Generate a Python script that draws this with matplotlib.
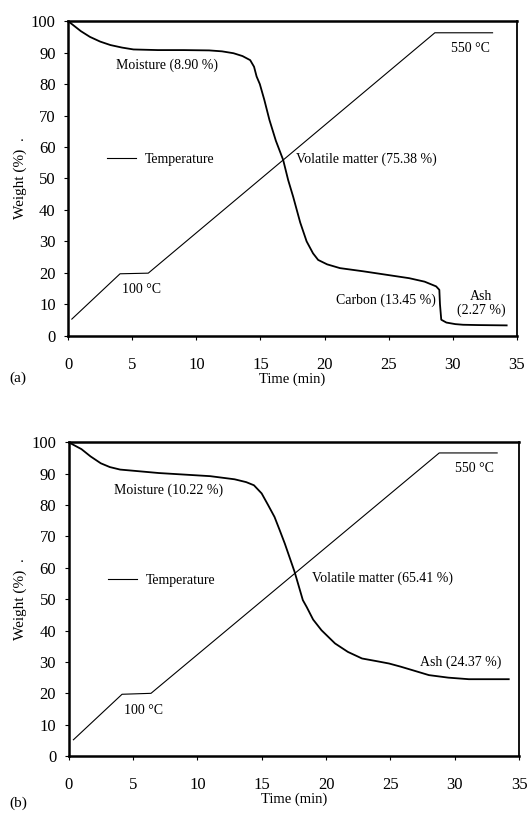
import matplotlib
matplotlib.use("Agg")
import matplotlib.pyplot as plt

plt.rcParams["font.family"] = ["Liberation Serif", "DejaVu Serif"]

# panel (a) weight loss curve
TIME_A = [0, 0.5, 1, 1.7, 2.5, 3.3, 4.2, 5.1, 7, 9, 11, 12, 12.9, 13.6, 14.2,
          14.5, 14.7, 14.95, 15.3, 15.7, 16.2, 16.77, 17.16, 17.55, 18.1, 18.6,
          19.1, 19.5, 20.2, 21.2, 23, 24.8, 26.6, 27.8, 28.7, 28.95, 29.0, 29.1,
          29.5, 30.2, 30.8, 32, 34.2]
WEIGHT_A = [100, 98.4, 96.8, 95, 93.5, 92.4, 91.6, 91, 90.8, 90.8, 90.7, 90.4,
            89.8, 88.9, 87.6, 85.5, 82.4, 80, 75, 68.6, 62, 55.9, 49.5, 44.2,
            36, 30, 26.2, 24.1, 22.7, 21.5, 20.5, 19.4, 18.3, 17.2, 15.7, 14.6,
            10, 5.1, 4.2, 3.7, 3.5, 3.4, 3.3]
TEMP_TIME_A = [0.29, 4.05, 6.25, 28.6, 33.1]
TEMP_A = [5.3, 19.7, 19.9, 96.3, 96.3]

# panel (b) weight loss curve
TIME_B = [0, 1, 1.7, 2.5, 3.2, 4, 5.1, 7, 9, 11, 12.9, 13.8, 14.4, 15, 15.5,
          16, 16.4, 16.8, 17.56, 18.2, 18.5, 19, 19.65, 20.7, 21.7, 22.8, 24,
          24.9, 25.8, 26.7, 28, 29.5, 31.1, 34.2]
WEIGHT_B = [100, 97.8, 95.5, 93.3, 92.1, 91.3, 90.9, 90.2, 89.7, 89.2, 88.2,
            87.3, 86.3, 83.7, 80, 76.2, 72, 67.7, 58.7, 49.7, 47.5, 43.5, 40.1,
            35.9, 33.2, 31.1, 30.2, 29.5, 28.5, 27.4, 25.8, 25.0, 24.5, 24.5]
TEMP_TIME_B = [0.37, 4.15, 6.4, 28.8, 33.3]
TEMP_B = [5.2, 19.7, 20, 96.6, 96.6]

XTICKS = [0, 5, 10, 15, 20, 25, 30, 35]
YTICKS = [0, 10, 20, 30, 40, 50, 60, 70, 80, 90, 100]

ANNOT_A = [
    (7.7, 86, "Moisture (8.90 %)", "center"),
    (17.8, 56, "Volatile matter (75.38 %)", "left"),
    (31.4, 91.3, "550 °C", "center"),
    (5.7, 14.6, "100 °C", "center"),
    (24.8, 11.4, "Carbon (13.45 %)", "center"),
    (32.2, 10.2, "Ash\n(2.27 %)", "center"),
]
ANNOT_B = [
    (7.8, 84.7, "Moisture (10.22 %)", "center"),
    (18.9, 56.6, "Volatile matter (65.41 %)", "left"),
    (31.5, 91.6, "550 °C", "center"),
    (5.8, 14.6, "100 °C", "center"),
    (30.5, 30.0, "Ash (24.37 %)", "center"),
]


def style_axes(ax):
    ax.set_xlim(0, 35)
    ax.set_ylim(0, 100)
    ax.set_xticks(XTICKS)
    ax.set_yticks(YTICKS)
    for side in ["left", "bottom", "top"]:
        ax.spines[side].set_linewidth(1.8)
    ax.spines["right"].set_linewidth(1.3)
    ax.tick_params(axis="x", direction="out", length=3, width=0.8, pad=12,
                   labelsize=12)
    ax.tick_params(axis="y", direction="out", length=3, width=0.8, pad=6,
                   labelsize=12)
    ax.set_xlabel("Time (min)", fontsize=10.5, labelpad=0)
    ax.set_ylabel("Weight (%)  .", fontsize=11, labelpad=3)


def draw_panel(ax, t, w, tt, temp, annots):
    ax.plot(t, w, color="black", linewidth=1.3)
    ax.plot(tt, temp, color="black", linewidth=0.8, label="Temperature")
    for x, y, text, ha in annots:
        ax.text(x, y, text, ha=ha, va="center", fontsize=10,
                multialignment="center", linespacing=1.1)
    ax.legend(loc="center left", bbox_to_anchor=(0.087, 0.56), frameon=False,
              borderpad=0, borderaxespad=0, handlelength=2.1,
              handletextpad=0.6, fontsize=10)
    style_axes(ax)


fig = plt.figure(figsize=(5.28, 8.13), dpi=100)
ax1 = fig.add_axes([0.129, 0.587, 0.850, 0.387])
ax2 = fig.add_axes([0.130, 0.070, 0.853, 0.386])

draw_panel(ax1, TIME_A, WEIGHT_A, TEMP_TIME_A, TEMP_A, ANNOT_A)
draw_panel(ax2, TIME_B, WEIGHT_B, TEMP_TIME_B, TEMP_B, ANNOT_B)

fig.text(0.018, 1 - 378 / 813, "(a)", fontsize=11, va="center")
fig.text(0.018, 1 - 803 / 813, "(b)", fontsize=11, va="center")

fig.savefig("out.png", dpi=100)
